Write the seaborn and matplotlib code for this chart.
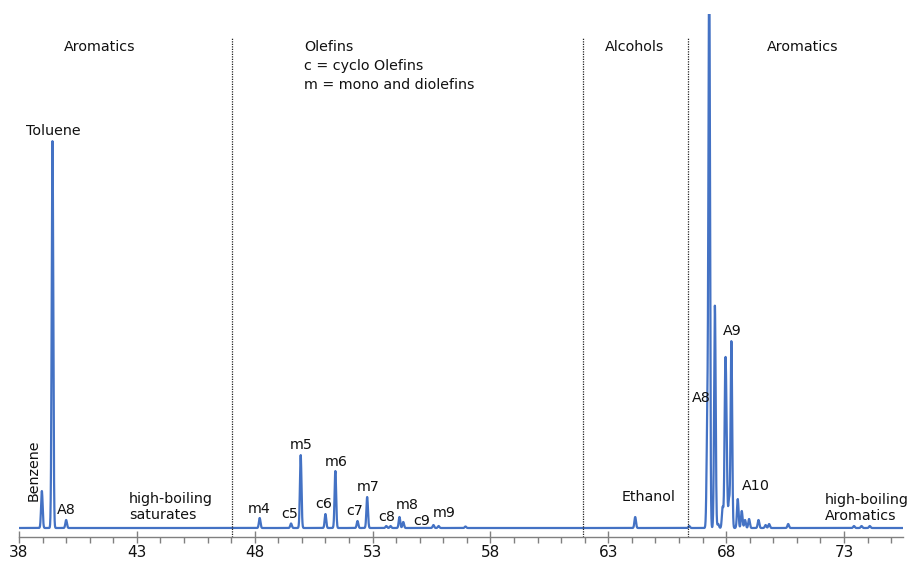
import numpy as np
import pandas as pd
import matplotlib
matplotlib.use("Agg")
import matplotlib.pyplot as plt
import seaborn as sns

# Peak list: retention time (min) and height (baseline = 0)
peak_time = [38.97, 39.42, 40.00,
             48.21, 49.54, 49.95, 51.00, 51.42, 52.36, 52.77, 53.58, 53.76,
             54.14, 54.30, 55.58, 55.80, 56.94,
             64.14, 66.43,
             67.20, 67.28, 67.52, 67.66, 67.85, 67.96, 68.01, 68.12, 68.22,
             68.49, 68.66, 68.80, 68.97, 69.37, 69.67, 69.82, 70.63,
             73.42, 73.74, 74.09]
peak_height = [37, 387, 8,
               10, 4.5, 73, 14, 57, 7, 31, 2, 2,
               11, 6, 3, 2, 1.5,
               11, 2,
               101, 560, 223, 4, 21, 140, 78, 28, 187,
               29, 17, 8, 9, 8, 3, 4, 4,
               2, 2, 2]

# Region separators (dotted lines) and region titles
region_edges = [47.03, 61.94, 66.4]
region_titles = ["Aromatics", "Olefins\nc = cyclo Olefins\nm = mono and diolefins",
                 "Alcohols", "Aromatics"]
region_title_x = [41.43, 50.08, 64.1, 71.26]
region_title_ha = ["center", "left", "center", "center"]

# Peak labels: text, x, y (y in signal units)
peak_labels = ["Toluene", "A8", "m4", "c5", "m5", "c6", "m6", "c7", "m7", "c8",
               "m8", "c9", "m9", "Ethanol", "A8", "A9", "A10"]
peak_label_x = [39.44, 40.0, 48.21, 49.48, 49.95, 50.92, 51.45, 52.25, 52.8, 53.6,
                54.45, 55.1, 56.05, 64.7, 66.96, 68.25, 69.27]
peak_label_y = [390, 11, 12, 7, 76, 17, 59, 10, 34, 4, 16, 0, 8, 24, 123, 190, 35]

xticks = [38, 43, 48, 53, 58, 63, 68, 73]

# build the trace from the peak list
t = np.linspace(38, 75.5, 6000)
sig = np.zeros_like(t)
for p, h in zip(peak_time, peak_height):
    sig += h * np.exp(-0.5 * ((t - p) / 0.033) ** 2)
df = pd.DataFrame({"time": t, "signal": sig})

sns.set_theme(style="white")
plt.rcParams['font.family'] = ['DejaVu Sans']

fig = plt.figure(figsize=(9.11, 5.62), dpi=100)
ax = fig.add_axes([19 / 911, 1 - 537 / 562, (903 - 19) / 911, (537 - 14) / 562])
sns.lineplot(data=df, x="time", y="signal", ax=ax, color="#4472C4", linewidth=1.6)

ax.set_xlim(38, 75.5)
ax.set_ylim(-9, 514)

for xe in region_edges:
    ax.vlines(xe, -9, 490, colors="#222222", linestyles=(0, (1, 1)), linewidth=0.9)

for txt, x, ha in zip(region_titles, region_title_x, region_title_ha):
    ax.text(x, 488, txt, ha=ha, va="top", fontsize=10.3, color="#111111", linespacing=1.45)

for txt, x, y in zip(peak_labels, peak_label_x, peak_label_y):
    ax.text(x, y, txt, ha="center", va="bottom", fontsize=10.3, color="#111111")

ax.text(38.64, 58, "Benzene", rotation=90, ha="center", va="center", fontsize=10.3, color="#111111")
ax.text(42.66, 21, "high-boiling\nsaturates", ha="left", va="center", fontsize=10.3,
        color="#111111", linespacing=1.1)
ax.text(72.2, 20, "high-boiling\nAromatics", ha="left", va="center", fontsize=10.3,
        color="#111111", linespacing=1.1)

for s in ["top", "right", "left"]:
    ax.spines[s].set_visible(False)
ax.spines["bottom"].set_color("#808080")
ax.spines["bottom"].set_linewidth(1)
ax.set_yticks([])
ax.set_xticks(xticks)
ax.set_xticks(np.arange(38, 76, 1), minor=True)
ax.tick_params(axis="x", which="major", direction="inout", length=8, width=1, color="#808080",
               labelsize=11, labelcolor="#111111", pad=2, bottom=True)
ax.tick_params(axis="x", which="minor", direction="out", length=4, width=1, color="#808080",
               bottom=True)
ax.set_xlabel("")
ax.set_ylabel("")

fig.savefig("out.png", dpi=100)
